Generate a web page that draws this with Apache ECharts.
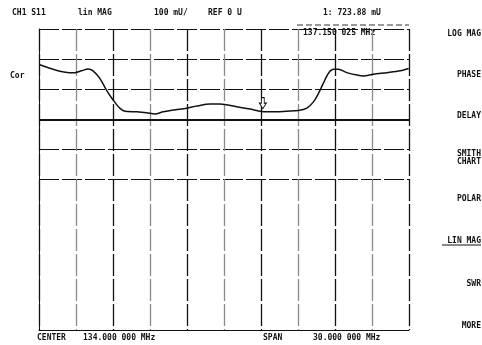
<!DOCTYPE html>
<html>
<head>
<meta charset="utf-8">
<script src="https://cdn.jsdelivr.net/npm/echarts@6/dist/echarts.min.js"></script>
<style>
  html, body { margin: 0; padding: 0; background: #fff; }
  #chart { width: 482px; height: 345px; }
</style>
</head>
<body>
<div id="chart"></div>
<script>
// trace: frequency (MHz) and magnitude (mU)
var freqs = [119.06, 120.14, 121.49, 121.90, 122.44, 122.98, 123.38, 123.93, 124.47, 125.01,
             125.55, 125.96, 126.91, 127.72, 128.40, 129.07, 129.88, 130.97, 131.78, 132.86,
             133.67, 135.03, 136.11, 137.06, 137.98, 139.09, 140.03, 140.72, 141.25, 141.66,
             142.06, 142.47, 142.88, 143.28, 143.96, 144.78, 145.31, 146.12, 147.21, 148.29, 148.97];
var mags = [881, 866, 855, 855, 861, 867, 861, 836, 797, 764,
            737, 727, 725, 722, 718, 725, 731, 737, 744, 751,
            751, 742, 734, 726, 725, 727, 729, 737, 758, 786,
            820, 853, 866, 866, 855, 847, 844, 850, 855, 861, 869];
var markerFreq = 137.15;
var markerMag = 723.88;
var softkeys = ['LOG MAG', 'PHASE', 'DELAY', 'SMITH\nCHART', 'POLAR', 'LIN MAG', 'SWR', 'MORE'];
var softkeyY = [34, 75, 116, 158, 199, 241, 284, 326];

var traceData = [];
for (var i = 0; i < freqs.length; i++) {
  traceData.push([freqs[i], mags[i]]);
}

var font = 'bold 8px "DejaVu Sans Mono"';
function label(x, y, txt, align) {
  return {
    type: 'text', x: x, y: y,
    style: { text: txt, font: font, fill: '#111', textAlign: align || 'left', textVerticalAlign: 'middle' }
  };
}

var graphics = [
  label(12, 13, 'CH1 S11'),
  label(78, 13, 'lin MAG'),
  label(154, 13, '100 mU/'),
  label(208, 13, 'REF 0 U'),
  label(323, 13, '1: 723.88 mU'),
  label(303, 33, '137.150 025 MHz'),
  label(10, 76, 'Cor'),
  label(37, 338, 'CENTER'),
  label(83, 338, '134.000 000 MHz'),
  label(263, 338, 'SPAN'),
  label(313, 338, '30.000 000 MHz'),
  {
    type: 'line',
    shape: { x1: 297, y1: 25, x2: 409, y2: 25 },
    style: { stroke: '#333', lineWidth: 1, lineDash: [6, 3] }
  }
];
softkeys.forEach(function (k, i) {
  graphics.push({
    type: 'text', x: 481, y: softkeyY[i],
    style: { text: k, font: font, fill: '#111', textAlign: 'right', textVerticalAlign: 'middle', lineHeight: 8 }
  });
});
graphics.push({
  type: 'line',
  shape: { x1: 442, y1: 245, x2: 481, y2: 245 },
  style: { stroke: '#111', lineWidth: 1 }
});

var chart = echarts.init(document.getElementById('chart'));
chart.setOption({
  backgroundColor: '#fff',
  animation: false,
  grid: { left: 39, right: 73, top: 29, bottom: 15 },
  xAxis: {
    type: 'value',
    min: 119, max: 149, interval: 3,
    axisLine: { show: true, lineStyle: { color: '#111', width: 1 } },
    axisTick: { show: false },
    axisLabel: { show: false },
    splitLine: {
      show: true,
      lineStyle: {
        color: ['#111', '#8a8a8a'],
        width: 1.3,
        type: [22, 3]
      }
    }
  },
  yAxis: {
    type: 'value',
    min: 0, max: 1000, interval: 100,
    axisLine: { show: true, lineStyle: { color: '#111', width: 1 } },
    axisTick: { show: false },
    axisLabel: { show: false },
    splitLine: {
      show: true,
      lineStyle: {
        color: ['rgba(0,0,0,0)', 'rgba(0,0,0,0)', 'rgba(0,0,0,0)', 'rgba(0,0,0,0)', 'rgba(0,0,0,0)',
                '#111', '#111', '#111', '#111', '#111', '#111'],
        width: 1,
        type: [20, 3]
      }
    }
  },
  graphic: graphics,
  series: [
    {
      type: 'line',
      data: traceData,
      showSymbol: false,
      smooth: 0.3,
      lineStyle: { color: '#111', width: 1.5 },
      markLine: {
        silent: true,
        symbol: 'none',
        label: { show: false },
        lineStyle: { color: '#111', width: 2, type: 'solid' },
        data: [{ yAxis: 700 }]
      },
      markPoint: {
        silent: true,
        symbol: 'path://M3,0 L7,0 L7,6 L10,6 L5,12 L0,6 L3,6 Z',
        symbolSize: [7, 11],
        symbolOffset: [0, -9],
        itemStyle: { color: '#fff', borderColor: '#111', borderWidth: 1 },
        label: { show: false },
        data: [{ coord: [markerFreq, markerMag] }]
      }
    }
  ]
});
</script>
</body>
</html>
